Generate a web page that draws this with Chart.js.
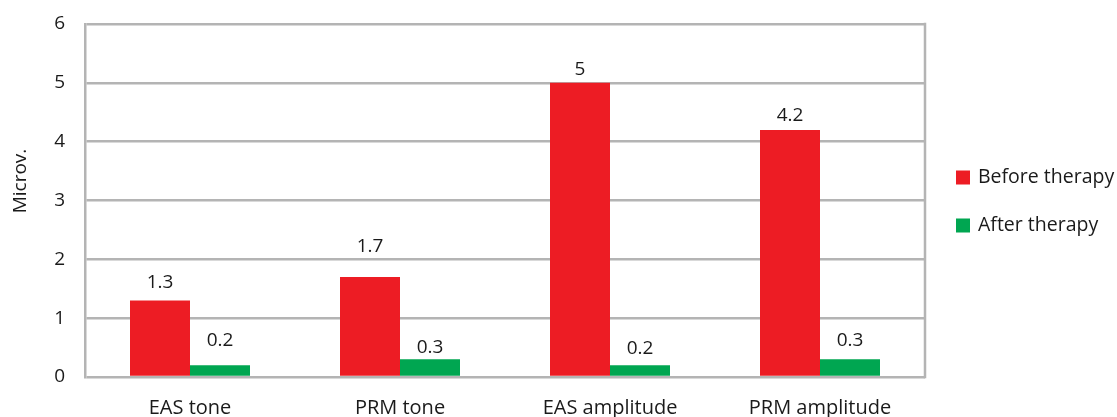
<!DOCTYPE html>
<html>
<head>
<meta charset="utf-8">
<script src="https://cdn.jsdelivr.net/npm/chart.js@4/dist/chart.umd.min.js"></script>
<style>
  html, body { margin: 0; padding: 0; background: #ffffff; }
  #wrap { width: 1117px; height: 417px; position: relative; }
</style>
</head>
<body>
<div id="wrap"><canvas id="chart"></canvas></div>
<script>
// Chart content
const categories = ['EAS tone', 'PRM tone', 'EAS amplitude', 'PRM amplitude'];
const beforeTherapy = [1.3, 1.7, 5, 4.2];
const afterTherapy = [0.2, 0.3, 0.2, 0.3];
const seriesNames = ['Before therapy', 'After therapy'];
const yTicks = [0, 1, 2, 3, 4, 5, 6];
const yTitle = 'Microv.';

// Styling
const FONT = '"Open Sans", "DejaVu Sans", sans-serif';
const TEXT = '#1a1a1a';
const GRID = '#b4b4b4';
const RED = '#ed1c24';
const GREEN = '#00a651';
// gap (px) between each value label and its bar top
const labelGap = [[13, 25, 8, 9], [19, 6, 11, 13]];

const valueLabels = {
  id: 'valueLabels',
  afterDatasetsDraw(chart) {
    const ctx = chart.ctx;
    ctx.save();
    ctx.font = '19px ' + FONT;
    ctx.fillStyle = TEXT;
    ctx.textAlign = 'center';
    ctx.textBaseline = 'alphabetic';
    chart.data.datasets.forEach((ds, di) => {
      const meta = chart.getDatasetMeta(di);
      meta.data.forEach((bar, i) => {
        ctx.fillText(String(ds.data[i]), bar.x, bar.y - labelGap[di][i]);
      });
    });
    ctx.restore();
  }
};

const frameAndLegend = {
  id: 'frameAndLegend',
  beforeDatasetsDraw(chart) {
    const { ctx, chartArea } = chart;
    ctx.save();
    ctx.strokeStyle = GRID;
    ctx.lineWidth = 2.5;
    ctx.beginPath();
    ctx.moveTo(chartArea.right, chartArea.top - 1.25);
    ctx.lineTo(chartArea.right, chartArea.bottom + 1.25);
    ctx.stroke();
    ctx.restore();
  },
  afterDraw(chart) {
    const { ctx, chartArea } = chart;
    ctx.save();
    // y axis title
    ctx.font = '19px ' + FONT;
    ctx.fillStyle = TEXT;
    ctx.textAlign = 'center';
    ctx.textBaseline = 'middle';
    ctx.translate(20.5, 181);
    ctx.rotate(-Math.PI / 2);
    ctx.fillText(yTitle, 0, 0);
    ctx.restore();

    // legend
    ctx.save();
    ctx.font = '19.5px ' + FONT;
    ctx.textAlign = 'left';
    ctx.textBaseline = 'middle';
    const x0 = chartArea.right + 31;
    chart.data.datasets.forEach((ds, i) => {
      const cy = 177.5 + i * 48;
      ctx.fillStyle = ds.backgroundColor;
      ctx.fillRect(x0, cy - 7, 14, 14);
      ctx.fillStyle = TEXT;
      ctx.fillText(ds.label, x0 + 22, cy);
    });
    ctx.restore();
  }
};

new Chart(document.getElementById('chart'), {
  type: 'bar',
  data: {
    labels: categories,
    datasets: [
      { label: seriesNames[0], data: beforeTherapy, backgroundColor: RED },
      { label: seriesNames[1], data: afterTherapy, backgroundColor: GREEN }
    ]
  },
  options: {
    responsive: true,
    maintainAspectRatio: false,
    animation: false,
    devicePixelRatio: 1,
    layout: { padding: { left: 0, right: 192, top: 24, bottom: 0 } },
    datasets: { bar: { barPercentage: 1, categoryPercentage: 120 / 210 } },
    plugins: { legend: { display: false }, tooltip: { enabled: false } },
    scales: {
      x: {
        grid: { display: false, drawTicks: false },
        border: { display: false },
        ticks: { color: TEXT, font: { family: FONT, size: 20 }, padding: 19, maxRotation: 0 },
        afterFit(scale) {
          scale.height = 40;
          scale.paddingLeft = 0;
          scale.paddingRight = 0;
        }
      },
      y: {
        min: yTicks[0],
        max: yTicks[yTicks.length - 1],
        afterBuildTicks(scale) { scale.ticks = yTicks.map(v => ({ value: v })); },
        grid: { color: GRID, lineWidth: 2.5, drawTicks: false },
        border: { display: true, color: GRID, width: 2.5 },
        ticks: { color: TEXT, font: { family: FONT, size: 19 }, padding: 20 },
        afterFit(scale) {
          scale.width = 85;
          scale.paddingTop = 0;
          scale.paddingBottom = 0;
        }
      }
    }
  },
  plugins: [frameAndLegend, valueLabels]
});
</script>
</body>
</html>
